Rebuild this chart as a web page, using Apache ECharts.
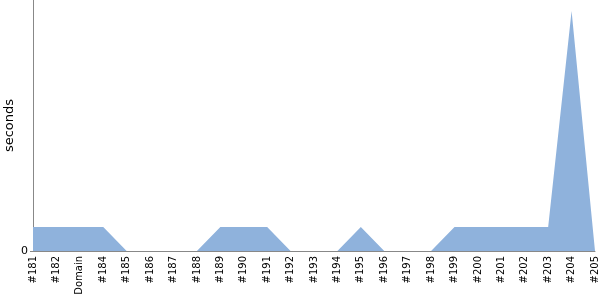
<!DOCTYPE html>
<html>
<head>
<meta charset="utf-8">
<script src="https://cdn.jsdelivr.net/npm/echarts@6/dist/echarts.min.js"></script>
<style>
    html, body { margin: 0; padding: 0; background: #fff; }
    #chart { width: 600px; height: 300px; }
</style>
</head>
<body>
<div id="chart"></div>
<script>
"use strict";
// 构建编号
var builds = ['#181', '#182', 'Domain', '#184', '#185', '#186', '#187', '#188', '#189',
    '#190', '#191', '#192', '#193', '#194', '#195', '#196', '#197', '#198', '#199',
    '#200', '#201', '#202', '#203', '#204', '#205'];
// 耗时(秒)
var seconds = [1, 1, 1, 1, 0, 0, 0, 0, 1, 1, 1, 0, 0, 0, 1, 0, 0, 0, 1, 1, 1, 1, 1, 10, 0];

var chart = echarts.init(document.getElementById('chart'));
var font = 'DejaVu Sans';
chart.setOption({
    animation: false,
    textStyle: { fontFamily: font },
    grid: { left: 33, right: 5, top: 0, bottom: 49, containLabel: false, outerBoundsMode: 'none' },
    xAxis: {
        type: 'category',
        data: builds,
        boundaryGap: false,
        axisLine: { lineStyle: { color: '#888', width: 1 } },
        axisTick: { show: false },
        axisLabel: { rotate: 90, fontSize: 10, color: '#000', fontFamily: font, margin: 5, interval: 0 }
    },
    yAxis: {
        type: 'value',
        min: 0,
        max: 10.46,
        interval: 100,
        name: 'seconds',
        nameLocation: 'middle',
        nameGap: 17,
        nameMoveOverlap: false,
        nameTextStyle: { fontSize: 13, color: '#000', fontFamily: font },
        axisLine: { show: true, lineStyle: { color: '#888', width: 1 } },
        axisTick: { show: true, length: 3, lineStyle: { color: '#888' } },
        splitLine: { show: false },
        axisLabel: {
            fontSize: 11, color: '#000', fontFamily: font, margin: 5,
            showMaxLabel: false,
            formatter: function (v) { return v === 0 ? '0' : ''; }
        }
    },
    series: [{
        type: 'line',
        data: seconds,
        showSymbol: false,
        lineStyle: { width: 0, color: '#8fb2dc' },
        itemStyle: { color: '#8fb2dc' },
        areaStyle: { color: '#8fb2dc', opacity: 1 }
    }]
});
</script>
</body>
</html>
